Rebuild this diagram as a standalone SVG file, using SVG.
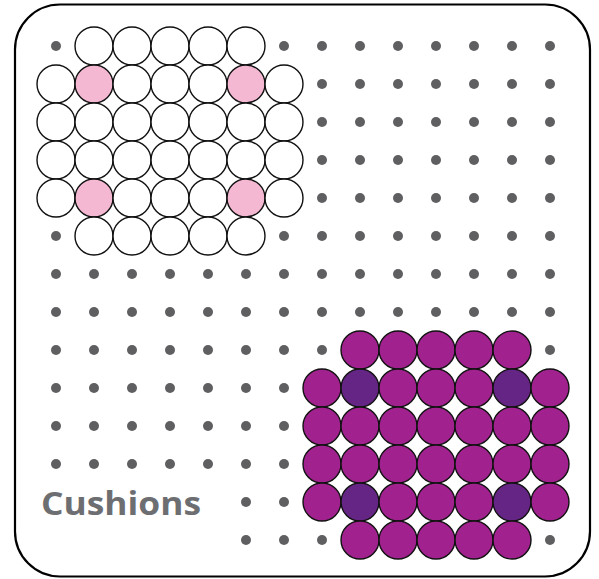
<svg xmlns="http://www.w3.org/2000/svg" width="599" height="579" viewBox="0 0 599 579">
<style>
.dot{fill:#5f5f61}
.c{stroke:#111;stroke-width:1.4}
.w{fill:#fff}
.p{fill:#f5b8d2}
.m{fill:#a1228e}
.d{fill:#652585}
.lbl{font-family:"Open Sans","Noto Sans",sans-serif;font-weight:700;font-size:33px;fill:#6d6e71}
</style>
<rect x="15" y="4.5" width="575" height="572" rx="45" ry="45" fill="#fff" stroke="#000" stroke-width="2.2"/>
<g id="dots">
<g id="row0"><circle class="dot" cx="56" cy="46" r="5"/><circle class="dot" cx="284" cy="46" r="5"/><circle class="dot" cx="322" cy="46" r="5"/><circle class="dot" cx="360" cy="46" r="5"/><circle class="dot" cx="398" cy="46" r="5"/><circle class="dot" cx="436" cy="46" r="5"/><circle class="dot" cx="474" cy="46" r="5"/><circle class="dot" cx="512" cy="46" r="5"/><circle class="dot" cx="550" cy="46" r="5"/></g>
<g id="rows1to4">
<circle class="dot" cx="322" cy="84" r="5"/><circle class="dot" cx="360" cy="84" r="5"/><circle class="dot" cx="398" cy="84" r="5"/><circle class="dot" cx="436" cy="84" r="5"/><circle class="dot" cx="474" cy="84" r="5"/><circle class="dot" cx="512" cy="84" r="5"/><circle class="dot" cx="550" cy="84" r="5"/>
<circle class="dot" cx="322" cy="122" r="5"/><circle class="dot" cx="360" cy="122" r="5"/><circle class="dot" cx="398" cy="122" r="5"/><circle class="dot" cx="436" cy="122" r="5"/><circle class="dot" cx="474" cy="122" r="5"/><circle class="dot" cx="512" cy="122" r="5"/><circle class="dot" cx="550" cy="122" r="5"/>
<circle class="dot" cx="322" cy="160" r="5"/><circle class="dot" cx="360" cy="160" r="5"/><circle class="dot" cx="398" cy="160" r="5"/><circle class="dot" cx="436" cy="160" r="5"/><circle class="dot" cx="474" cy="160" r="5"/><circle class="dot" cx="512" cy="160" r="5"/><circle class="dot" cx="550" cy="160" r="5"/>
<circle class="dot" cx="322" cy="198" r="5"/><circle class="dot" cx="360" cy="198" r="5"/><circle class="dot" cx="398" cy="198" r="5"/><circle class="dot" cx="436" cy="198" r="5"/><circle class="dot" cx="474" cy="198" r="5"/><circle class="dot" cx="512" cy="198" r="5"/><circle class="dot" cx="550" cy="198" r="5"/>
</g>
<g id="row5"><circle class="dot" cx="56" cy="236" r="5"/><circle class="dot" cx="284" cy="236" r="5"/><circle class="dot" cx="322" cy="236" r="5"/><circle class="dot" cx="360" cy="236" r="5"/><circle class="dot" cx="398" cy="236" r="5"/><circle class="dot" cx="436" cy="236" r="5"/><circle class="dot" cx="474" cy="236" r="5"/><circle class="dot" cx="512" cy="236" r="5"/><circle class="dot" cx="550" cy="236" r="5"/></g>
<g id="rows6to7">
<circle class="dot" cx="56" cy="274" r="5"/><circle class="dot" cx="94" cy="274" r="5"/><circle class="dot" cx="132" cy="274" r="5"/><circle class="dot" cx="170" cy="274" r="5"/><circle class="dot" cx="208" cy="274" r="5"/><circle class="dot" cx="246" cy="274" r="5"/><circle class="dot" cx="284" cy="274" r="5"/><circle class="dot" cx="322" cy="274" r="5"/><circle class="dot" cx="360" cy="274" r="5"/><circle class="dot" cx="398" cy="274" r="5"/><circle class="dot" cx="436" cy="274" r="5"/><circle class="dot" cx="474" cy="274" r="5"/><circle class="dot" cx="512" cy="274" r="5"/><circle class="dot" cx="550" cy="274" r="5"/>
<circle class="dot" cx="56" cy="312" r="5"/><circle class="dot" cx="94" cy="312" r="5"/><circle class="dot" cx="132" cy="312" r="5"/><circle class="dot" cx="170" cy="312" r="5"/><circle class="dot" cx="208" cy="312" r="5"/><circle class="dot" cx="246" cy="312" r="5"/><circle class="dot" cx="284" cy="312" r="5"/><circle class="dot" cx="322" cy="312" r="5"/><circle class="dot" cx="360" cy="312" r="5"/><circle class="dot" cx="398" cy="312" r="5"/><circle class="dot" cx="436" cy="312" r="5"/><circle class="dot" cx="474" cy="312" r="5"/><circle class="dot" cx="512" cy="312" r="5"/><circle class="dot" cx="550" cy="312" r="5"/>
</g>
<g id="row8"><circle class="dot" cx="56" cy="350" r="5"/><circle class="dot" cx="94" cy="350" r="5"/><circle class="dot" cx="132" cy="350" r="5"/><circle class="dot" cx="170" cy="350" r="5"/><circle class="dot" cx="208" cy="350" r="5"/><circle class="dot" cx="246" cy="350" r="5"/><circle class="dot" cx="284" cy="350" r="5"/><circle class="dot" cx="322" cy="350" r="5"/><circle class="dot" cx="550" cy="350" r="5"/></g>
<g id="rows9to11">
<circle class="dot" cx="56" cy="388" r="5"/><circle class="dot" cx="94" cy="388" r="5"/><circle class="dot" cx="132" cy="388" r="5"/><circle class="dot" cx="170" cy="388" r="5"/><circle class="dot" cx="208" cy="388" r="5"/><circle class="dot" cx="246" cy="388" r="5"/><circle class="dot" cx="284" cy="388" r="5"/>
<circle class="dot" cx="56" cy="426" r="5"/><circle class="dot" cx="94" cy="426" r="5"/><circle class="dot" cx="132" cy="426" r="5"/><circle class="dot" cx="170" cy="426" r="5"/><circle class="dot" cx="208" cy="426" r="5"/><circle class="dot" cx="246" cy="426" r="5"/><circle class="dot" cx="284" cy="426" r="5"/>
<circle class="dot" cx="56" cy="464" r="5"/><circle class="dot" cx="94" cy="464" r="5"/><circle class="dot" cx="132" cy="464" r="5"/><circle class="dot" cx="170" cy="464" r="5"/><circle class="dot" cx="208" cy="464" r="5"/><circle class="dot" cx="246" cy="464" r="5"/><circle class="dot" cx="284" cy="464" r="5"/>
</g>
<g id="rows12to13">
<circle class="dot" cx="246" cy="502" r="5"/><circle class="dot" cx="284" cy="502" r="5"/>
<circle class="dot" cx="246" cy="540" r="5"/><circle class="dot" cx="284" cy="540" r="5"/><circle class="dot" cx="322" cy="540" r="5"/><circle class="dot" cx="550" cy="540" r="5"/>
</g>
</g>
<g id="cushion-white">
<circle class="c w" cx="94" cy="46" r="19"/><circle class="c w" cx="132" cy="46" r="19"/><circle class="c w" cx="170" cy="46" r="19"/><circle class="c w" cx="208" cy="46" r="19"/><circle class="c w" cx="246" cy="46" r="19"/>
<circle class="c w" cx="56" cy="84" r="19"/><circle class="c p" cx="94" cy="84" r="19"/><circle class="c w" cx="132" cy="84" r="19"/><circle class="c w" cx="170" cy="84" r="19"/><circle class="c w" cx="208" cy="84" r="19"/><circle class="c p" cx="246" cy="84" r="19"/><circle class="c w" cx="284" cy="84" r="19"/>
<circle class="c w" cx="56" cy="122" r="19"/><circle class="c w" cx="94" cy="122" r="19"/><circle class="c w" cx="132" cy="122" r="19"/><circle class="c w" cx="170" cy="122" r="19"/><circle class="c w" cx="208" cy="122" r="19"/><circle class="c w" cx="246" cy="122" r="19"/><circle class="c w" cx="284" cy="122" r="19"/>
<circle class="c w" cx="56" cy="160" r="19"/><circle class="c w" cx="94" cy="160" r="19"/><circle class="c w" cx="132" cy="160" r="19"/><circle class="c w" cx="170" cy="160" r="19"/><circle class="c w" cx="208" cy="160" r="19"/><circle class="c w" cx="246" cy="160" r="19"/><circle class="c w" cx="284" cy="160" r="19"/>
<circle class="c w" cx="56" cy="198" r="19"/><circle class="c p" cx="94" cy="198" r="19"/><circle class="c w" cx="132" cy="198" r="19"/><circle class="c w" cx="170" cy="198" r="19"/><circle class="c w" cx="208" cy="198" r="19"/><circle class="c p" cx="246" cy="198" r="19"/><circle class="c w" cx="284" cy="198" r="19"/>
<circle class="c w" cx="94" cy="236" r="19"/><circle class="c w" cx="132" cy="236" r="19"/><circle class="c w" cx="170" cy="236" r="19"/><circle class="c w" cx="208" cy="236" r="19"/><circle class="c w" cx="246" cy="236" r="19"/>
</g>
<g id="cushion-purple">
<circle class="c m" cx="360" cy="350" r="19"/><circle class="c m" cx="398" cy="350" r="19"/><circle class="c m" cx="436" cy="350" r="19"/><circle class="c m" cx="474" cy="350" r="19"/><circle class="c m" cx="512" cy="350" r="19"/>
<circle class="c m" cx="322" cy="388" r="19"/><circle class="c d" cx="360" cy="388" r="19"/><circle class="c m" cx="398" cy="388" r="19"/><circle class="c m" cx="436" cy="388" r="19"/><circle class="c m" cx="474" cy="388" r="19"/><circle class="c d" cx="512" cy="388" r="19"/><circle class="c m" cx="550" cy="388" r="19"/>
<circle class="c m" cx="322" cy="426" r="19"/><circle class="c m" cx="360" cy="426" r="19"/><circle class="c m" cx="398" cy="426" r="19"/><circle class="c m" cx="436" cy="426" r="19"/><circle class="c m" cx="474" cy="426" r="19"/><circle class="c m" cx="512" cy="426" r="19"/><circle class="c m" cx="550" cy="426" r="19"/>
<circle class="c m" cx="322" cy="464" r="19"/><circle class="c m" cx="360" cy="464" r="19"/><circle class="c m" cx="398" cy="464" r="19"/><circle class="c m" cx="436" cy="464" r="19"/><circle class="c m" cx="474" cy="464" r="19"/><circle class="c m" cx="512" cy="464" r="19"/><circle class="c m" cx="550" cy="464" r="19"/>
<circle class="c m" cx="322" cy="502" r="19"/><circle class="c d" cx="360" cy="502" r="19"/><circle class="c m" cx="398" cy="502" r="19"/><circle class="c m" cx="436" cy="502" r="19"/><circle class="c m" cx="474" cy="502" r="19"/><circle class="c d" cx="512" cy="502" r="19"/><circle class="c m" cx="550" cy="502" r="19"/>
<circle class="c m" cx="360" cy="540" r="19"/><circle class="c m" cx="398" cy="540" r="19"/><circle class="c m" cx="436" cy="540" r="19"/><circle class="c m" cx="474" cy="540" r="19"/><circle class="c m" cx="512" cy="540" r="19"/>
</g>
<g id="label">
<text class="lbl" x="41" y="515" textLength="160" lengthAdjust="spacingAndGlyphs">Cushions</text>
</g>
</svg>
